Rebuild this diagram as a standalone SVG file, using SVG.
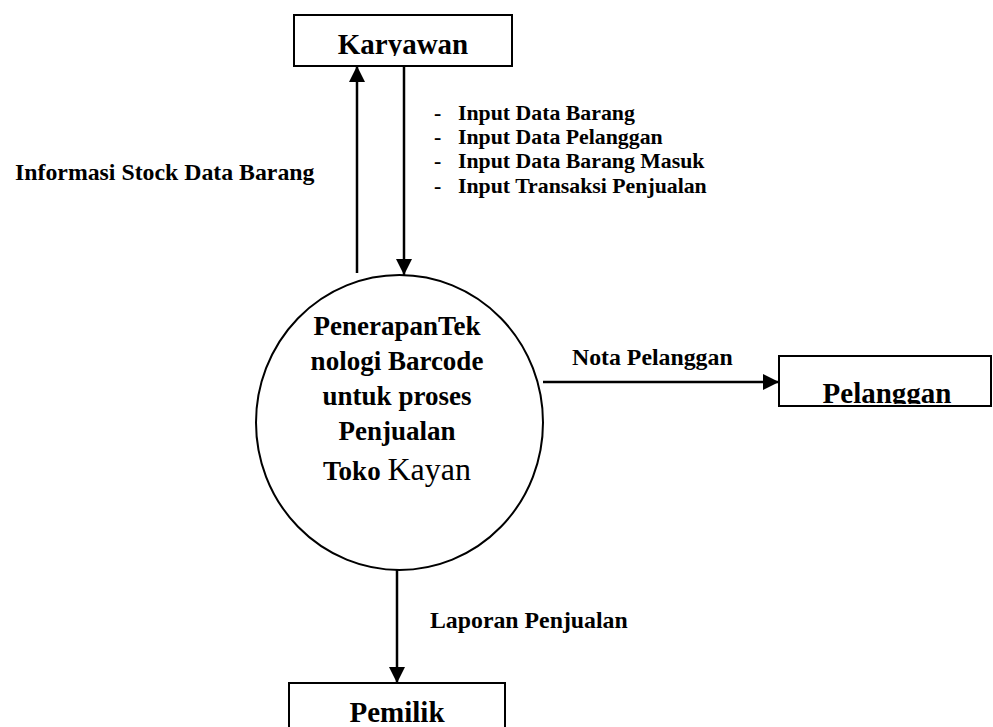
<svg xmlns="http://www.w3.org/2000/svg" width="993" height="727" viewBox="0 0 993 727">
<style>
  .box { fill: #fff; stroke: #000; stroke-width: 2; }
  .title { font-family: "Liberation Serif", "Times New Roman", serif; font-weight: bold; font-size: 29px; fill: #000; text-anchor: middle; }
  .lbl { font-family: "Liberation Serif", "Times New Roman", serif; font-weight: bold; font-size: 23.8px; fill: #000; }
  .lst { font-family: "Liberation Serif", "Times New Roman", serif; font-weight: bold; font-size: 21.8px; fill: #000; }
  .ctext { font-family: "Liberation Serif", "Times New Roman", serif; font-weight: bold; font-size: 27px; fill: #000; text-anchor: middle; }
  .flow { stroke: #000; stroke-width: 2.5; fill: none; marker-end: url(#arr); }
</style>
<defs>
  <marker id="arr" markerUnits="userSpaceOnUse" markerWidth="16" markerHeight="16" viewBox="0 0 16 16" refX="16" refY="8" orient="auto">
    <path d="M0,0 L16,8 L0,16 Z" fill="#000"/>
  </marker>
  <clipPath id="clipK"><rect x="294" y="15" width="218" height="41"/></clipPath>
  <clipPath id="clipP"><rect x="779" y="356" width="212" height="48"/></clipPath>
</defs>
<rect width="993" height="727" fill="#fff"/>

<g id="karyawan">
  <rect class="box" x="294" y="15" width="218" height="51"/>
  <text class="title" x="403" y="54" clip-path="url(#clipK)">Karyawan</text>
</g>

<g id="proses">
  <ellipse cx="399.5" cy="422.5" rx="143.5" ry="147.5" fill="#fff" stroke="#000" stroke-width="2"/>
  <text class="ctext" x="397" y="335">PenerapanTek</text>
  <text class="ctext" x="397" y="370">nologi Barcode</text>
  <text class="ctext" x="397" y="405">untuk proses</text>
  <text class="ctext" x="397" y="440">Penjualan</text>
  <text class="ctext" x="397" y="480">Toko <tspan font-weight="normal" font-size="32px">Kayan</tspan></text>
</g>

<g id="pelanggan">
  <rect class="box" x="779" y="356" width="212" height="50"/>
  <text class="title" x="887" y="403" clip-path="url(#clipP)">Pelanggan</text>
</g>

<g id="pemilik">
  <rect class="box" x="289" y="683" width="216" height="60"/>
  <text class="title" x="397" y="722">Pemilik</text>
</g>

<g id="connectors">
  <line class="flow" x1="357" y1="273" x2="357" y2="66"/>
  <line class="flow" x1="404" y1="66" x2="404" y2="275"/>
  <line class="flow" x1="543" y1="382" x2="779" y2="382"/>
  <line class="flow" x1="397" y1="570" x2="397" y2="683"/>
</g>

<g id="labels">
  <text class="lbl" x="15" y="180">Informasi Stock Data Barang</text>
  <text class="lst" x="434" y="120">-</text>
  <text class="lst" x="458" y="120">Input Data Barang</text>
  <text class="lst" x="434" y="144.2">-</text>
  <text class="lst" x="458" y="144.2">Input Data Pelanggan</text>
  <text class="lst" x="434" y="168.4">-</text>
  <text class="lst" x="458" y="168.4">Input Data Barang Masuk</text>
  <text class="lst" x="434" y="192.6">-</text>
  <text class="lst" x="458" y="192.6">Input Transaksi Penjualan</text>
  <text class="lbl" x="572" y="365">Nota Pelanggan</text>
  <text class="lbl" x="430" y="628">Laporan Penjualan</text>
</g>
</svg>
